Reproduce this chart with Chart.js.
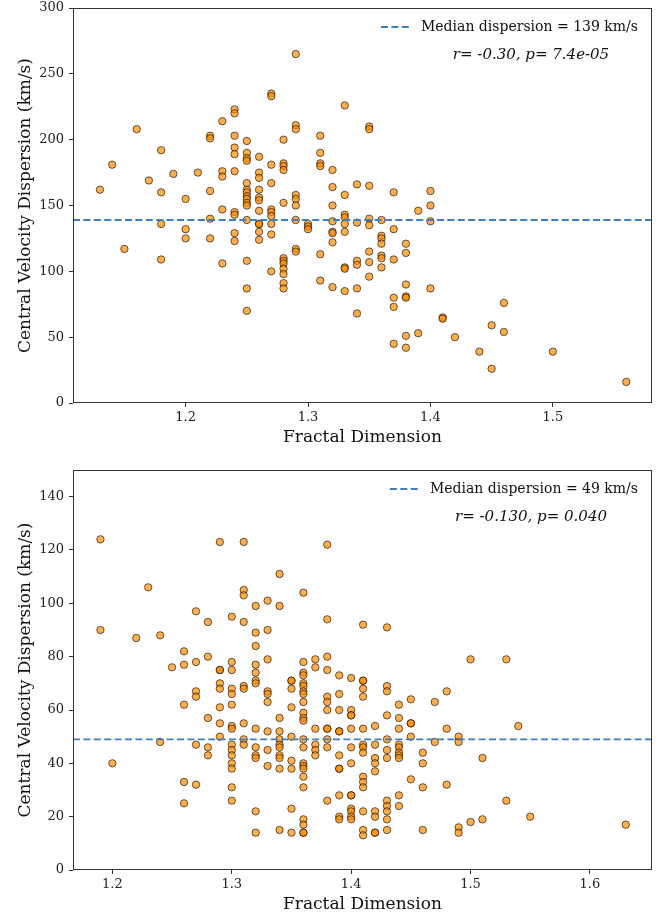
<!DOCTYPE html>
<html>
<head>
<meta charset="utf-8">
<script src="https://cdn.jsdelivr.net/npm/chart.js@4"></script>
<style>
  body { margin: 0; background: #fff; }
  .panel { position: absolute; left: 0; width: 668px; }
  #topPanel { top: 0; height: 455px; }
  #bottomPanel { top: 455px; height: 463px; }
</style>
</head>
<body>
<div class="panel" id="topPanel"><canvas id="topChart"></canvas></div>
<div class="panel" id="bottomPanel"><canvas id="bottomChart"></canvas></div>
<script>
// --- top panel data: fractal dimension vs central velocity dispersion ---
const topFd = [
  1.13, 1.14, 1.15, 1.16, 1.17,
  1.18, 1.18, 1.18, 1.18,
  1.19,
  1.20, 1.20, 1.20,
  1.21,
  1.22, 1.22, 1.22, 1.22, 1.22,
  1.23, 1.23, 1.23, 1.23, 1.23,
  1.24, 1.24, 1.24, 1.24, 1.24, 1.24, 1.24, 1.24, 1.24, 1.24,
  1.25, 1.25, 1.25, 1.25, 1.25, 1.25, 1.25, 1.25, 1.25, 1.25, 1.25, 1.25, 1.25, 1.25, 1.25,
  1.26, 1.26, 1.26, 1.26, 1.26, 1.26, 1.26, 1.26, 1.26, 1.26, 1.26,
  1.27, 1.27, 1.27, 1.27, 1.27, 1.27, 1.27, 1.27, 1.27, 1.27,
  1.28, 1.28, 1.28, 1.28, 1.28, 1.28, 1.28, 1.28, 1.28, 1.28, 1.28, 1.28,
  1.29, 1.29, 1.29, 1.29, 1.29, 1.29, 1.29, 1.29, 1.29,
  1.30, 1.30, 1.30,
  1.31, 1.31, 1.31, 1.31, 1.31, 1.31,
  1.32, 1.32, 1.32, 1.32, 1.32, 1.32, 1.32, 1.32,
  1.33, 1.33, 1.33, 1.33, 1.33, 1.33, 1.33, 1.33, 1.33,
  1.34, 1.34, 1.34, 1.34, 1.34, 1.34,
  1.35, 1.35, 1.35, 1.35, 1.35, 1.35, 1.35, 1.35,
  1.36, 1.36, 1.36, 1.36, 1.36, 1.36, 1.36,
  1.37, 1.37, 1.37, 1.37, 1.37, 1.37,
  1.38, 1.38, 1.38, 1.38, 1.38, 1.38, 1.38,
  1.39, 1.39,
  1.40, 1.40, 1.40, 1.40,
  1.41, 1.41,
  1.42, 1.44, 1.45, 1.45, 1.46, 1.46, 1.50, 1.56
];
const topSigma = [
  162, 181, 117, 208, 169,
  192, 160, 136, 109,
  174,
  155, 132, 125,
  175,
  203, 201, 161, 140, 125,
  214, 176, 172, 147, 106,
  223, 220, 203, 194, 189, 176, 145, 143, 129, 123,
  199, 190, 186, 184, 167, 162, 160, 157, 155, 152, 150, 139, 108, 87, 70,
  187, 175, 171, 162, 156, 154, 146, 136, 136, 130, 124,
  235, 233, 181, 167, 147, 145, 142, 136, 128, 100,
  200, 182, 180, 177, 152, 110, 108, 106, 102, 98, 91, 87,
  265, 211, 208, 158, 155, 150, 139, 117, 115,
  136, 134, 132,
  203, 190, 182, 180, 113, 93,
  177, 164, 150, 138, 130, 129, 122, 88,
  226, 158, 143, 141, 136, 130, 103, 102, 85,
  166, 137, 108, 105, 87, 68,
  210, 208, 165, 140, 135, 115, 107, 96,
  139, 127, 125, 121, 112, 110, 103,
  160, 132, 109, 80, 73, 45,
  121, 114, 90, 81, 80, 51, 42,
  146, 53,
  161, 150, 138, 87,
  65, 64,
  50, 39, 59, 26, 76, 54, 39, 16
];
const topMedian = 139;
const topXTicks = [1.2, 1.3, 1.4, 1.5];
const topYTicks = [0, 50, 100, 150, 200, 250, 300];

// --- bottom panel data ---
const bottomFd = [
  1.19, 1.19, 1.20, 1.22, 1.23, 1.24, 1.24, 1.25,
  1.26, 1.26, 1.26, 1.26, 1.26,
  1.27, 1.27, 1.27, 1.27, 1.27, 1.27,
  1.28, 1.28, 1.28, 1.28, 1.28,
  1.29, 1.29, 1.29, 1.29, 1.29, 1.29, 1.29, 1.29,
  1.30, 1.30, 1.30, 1.30, 1.30, 1.30, 1.30, 1.30, 1.30, 1.30, 1.30, 1.30, 1.30, 1.30, 1.30,
  1.31, 1.31, 1.31, 1.31, 1.31, 1.31, 1.31, 1.31, 1.31,
  1.32, 1.32, 1.32, 1.32, 1.32, 1.32, 1.32, 1.32, 1.32, 1.32, 1.32, 1.32, 1.32,
  1.33, 1.33, 1.33, 1.33, 1.33, 1.33, 1.33, 1.33, 1.33,
  1.34, 1.34, 1.34, 1.34, 1.34, 1.34, 1.34, 1.34, 1.34, 1.34, 1.34,
  1.35, 1.35, 1.35, 1.35, 1.35, 1.35, 1.35, 1.35, 1.35,
  1.36, 1.36, 1.36, 1.36, 1.36, 1.36, 1.36, 1.36, 1.36, 1.36, 1.36, 1.36,
  1.36, 1.36, 1.36, 1.36, 1.36, 1.36, 1.36, 1.36, 1.36, 1.36, 1.36,
  1.37, 1.37, 1.37, 1.37, 1.37, 1.37,
  1.38, 1.38, 1.38, 1.38, 1.38, 1.38, 1.38, 1.38, 1.38, 1.38, 1.38, 1.38,
  1.39, 1.39, 1.39, 1.39, 1.39, 1.39, 1.39, 1.39, 1.39, 1.39, 1.39,
  1.40, 1.40, 1.40, 1.40, 1.40, 1.40, 1.40, 1.40, 1.40, 1.40, 1.40, 1.40, 1.40,
  1.41, 1.41, 1.41, 1.41, 1.41, 1.41, 1.41, 1.41, 1.41, 1.41, 1.41, 1.41, 1.41, 1.41, 1.41,
  1.42, 1.42, 1.42, 1.42, 1.42, 1.42, 1.42, 1.42, 1.42,
  1.43, 1.43, 1.43, 1.43, 1.43, 1.43, 1.43, 1.43, 1.43, 1.43, 1.43, 1.43,
  1.44, 1.44, 1.44, 1.44, 1.44, 1.44, 1.44, 1.44, 1.44, 1.44,
  1.45, 1.45, 1.45, 1.45, 1.45,
  1.46, 1.46, 1.46, 1.46,
  1.47, 1.47,
  1.48, 1.48, 1.48,
  1.49, 1.49, 1.49, 1.49,
  1.50, 1.50, 1.51, 1.51, 1.53, 1.53, 1.54, 1.55, 1.63
];
const bottomSigma = [
  124, 90, 40, 87, 106, 88, 48, 76,
  82, 77, 62, 33, 25,
  97, 78, 67, 65, 47, 32,
  93, 80, 57, 46, 43,
  123, 75, 75, 70, 68, 61, 55, 50,
  95, 78, 75, 68, 66, 62, 54, 53, 47, 45, 43, 40, 38, 31, 26,
  123, 105, 103, 93, 69, 68, 55, 49, 47,
  99, 89, 84, 77, 74, 71, 70, 53, 46, 43, 42, 22, 14,
  101, 90, 79, 67, 66, 63, 52, 45, 39,
  111, 99, 57, 52, 49, 47, 46, 43, 42, 38, 15,
  71, 71, 68, 61, 50, 41, 38, 23, 14,
  104, 78, 74, 73, 70, 69, 67, 66, 63, 59, 57, 56,
  49, 46, 40, 39, 38, 35, 31, 19, 17, 14, 14,
  79, 76, 53, 47, 45, 43,
  122, 94, 80, 75, 65, 63, 60, 53, 53, 49, 46, 26,
  73, 66, 60, 52, 52, 43, 38, 38, 28, 20, 19,
  72, 60, 58, 58, 53, 46, 40, 28, 28, 23, 22, 20, 19,
  92, 71, 71, 68, 65, 53, 47, 46, 44, 35, 33, 31, 22, 15, 13,
  54, 47, 42, 40, 37, 22, 20, 14, 14,
  91, 69, 67, 58, 49, 45, 42, 26, 24, 22, 19, 15,
  62, 57, 53, 47, 46, 44, 43, 42, 28, 24,
  64, 55, 55, 50, 34,
  44, 40, 31, 15,
  63, 48,
  67, 53, 32,
  50, 48, 16, 14,
  79, 18, 42, 19, 79, 26, 54, 20, 17
];
const bottomMedian = 49;
const bottomXTicks = [1.2, 1.3, 1.4, 1.5, 1.6];
const bottomYTicks = [0, 20, 40, 60, 80, 100, 120, 140];

const xTitle = 'Fractal Dimension';
const yTitle = 'Central Velocity Dispersion (km/s)';
const serif = "'DejaVu Serif', serif";
const medianColor = '#3f7fbf';
const medianDash = [7, 3.4];

// frame + legend + r/p annotation, drawn on top of the chart area
const boxAndNotes = {
    id: 'boxAndNotes',
    afterDatasetsDraw(chart, args, opts) {
        const { ctx, chartArea: a } = chart;
        ctx.save();
        ctx.strokeStyle = '#333';
        ctx.lineWidth = 1;
        ctx.strokeRect(a.left + 0.5, a.top + 0.5, a.width - 1, a.height - 1);

        // legend (no frame)
        ctx.font = '14px ' + serif;
        ctx.fillStyle = '#111';
        ctx.textAlign = 'right';
        ctx.textBaseline = 'middle';
        const textRight = a.right - 14;
        const legY = a.top + 19;
        ctx.fillText(opts.legend, textRight, legY);
        const tw = ctx.measureText(opts.legend).width;
        const lineEnd = textRight - tw - 12;
        ctx.strokeStyle = medianColor;
        ctx.lineWidth = 1.8;
        ctx.setLineDash(medianDash);
        ctx.beginPath();
        ctx.moveTo(lineEnd - 28, legY);
        ctx.lineTo(lineEnd, legY);
        ctx.stroke();
        ctx.setLineDash([]);

        // stats note
        ctx.font = 'italic 15px ' + serif;
        ctx.textAlign = 'center';
        ctx.fillText(opts.note, a.right - 121, a.top + 47);
        ctx.restore();
    }
};

const makeChart = (id, xs, ys, median, xRange, yRange, xTicks, yTicks, legend, note, layout) => {
    const points = xs.map((x, i) => ({ x: x, y: ys[i] }));
    return new Chart(document.getElementById(id), {
        type: 'scatter',
        data: {
            datasets: [{
                data: points,
                backgroundColor: 'rgba(255,140,0,0.7)',
                borderColor: 'rgba(0,0,0,0.6)',
                borderWidth: 1,
                pointRadius: 3.7,
                order: 2
            }, {
                type: 'line',
                data: [{ x: xRange[0], y: median }, { x: xRange[1], y: median }],
                borderColor: medianColor,
                borderWidth: 1.8,
                borderDash: medianDash,
                pointRadius: 0,
                fill: false,
                order: 1
            }]
        },
        options: {
            responsive: true,
            maintainAspectRatio: false,
            animation: false,
            layout: { padding: { left: 0, right: 16, top: layout.top, bottom: 0 } },
            plugins: {
                legend: { display: false },
                tooltip: { enabled: false },
                boxAndNotes: { legend: legend, note: note }
            },
            scales: {
                x: {
                    type: 'linear',
                    min: xRange[0],
                    max: xRange[1],
                    afterBuildTicks: s => { s.ticks = xTicks.map(v => ({ value: v })); },
                    afterFit: s => {
                        s.height = layout.xHeight;
                        s.paddingLeft = 0;
                        s.paddingRight = 0;
                    },
                    border: { display: false },
                    grid: { drawOnChartArea: false, drawTicks: true, tickLength: 4, color: '#333' },
                    ticks: {
                        color: '#222',
                        font: { family: serif, size: 13 },
                        padding: 3,
                        maxRotation: 0,
                        callback: v => v.toFixed(1)
                    },
                    title: {
                        display: true,
                        text: xTitle,
                        color: '#111',
                        font: { family: serif, size: 17 },
                        padding: { top: 0, bottom: layout.xTitlePad }
                    }
                },
                y: {
                    min: yRange[0],
                    max: yRange[1],
                    afterBuildTicks: s => { s.ticks = yTicks.map(v => ({ value: v })); },
                    afterFit: s => {
                        s.width = 73;
                        s.paddingTop = 0;
                        s.paddingBottom = 0;
                    },
                    border: { display: false },
                    grid: { drawOnChartArea: false, drawTicks: true, tickLength: 4, color: '#333' },
                    ticks: {
                        color: '#222',
                        font: { family: serif, size: 13 },
                        padding: 5
                    },
                    title: {
                        display: true,
                        text: yTitle,
                        color: '#111',
                        font: { family: serif, size: 17 },
                        padding: { top: 15, bottom: 0 }
                    }
                }
            }
        },
        plugins: [boxAndNotes]
    });
};

makeChart('topChart', topFd, topSigma, topMedian, [1.108, 1.581], [0, 300],
    topXTicks, topYTicks,
    'Median dispersion = ' + topMedian + ' km/s', 'r= -0.30, p= 7.4e-05',
    { top: 8, xHeight: 52, xTitlePad: 7 });

makeChart('bottomChart', bottomFd, bottomSigma, bottomMedian, [1.167, 1.652], [0, 150],
    bottomXTicks, bottomYTicks,
    'Median dispersion = ' + bottomMedian + ' km/s', 'r= -0.130, p= 0.040',
    { top: 15, xHeight: 48, xTitlePad: 3 });
</script>
</body>
</html>
